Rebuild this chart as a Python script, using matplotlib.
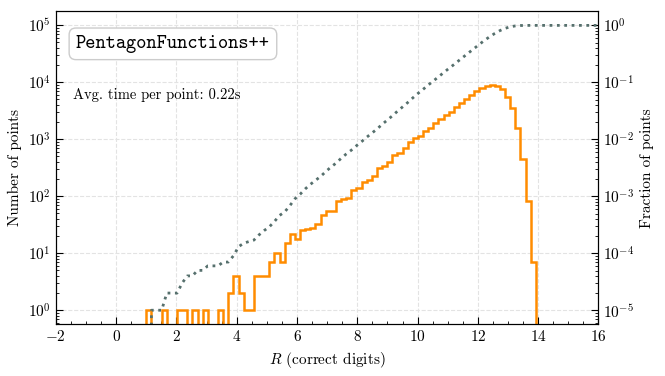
import numpy as np
import matplotlib
matplotlib.use("Agg")
import matplotlib.pyplot as plt
from matplotlib.ticker import MultipleLocator

plt.rcParams['font.family'] = 'serif'
plt.rcParams['font.serif'] = ['cmr10']
plt.rcParams['mathtext.fontset'] = 'cm'
plt.rcParams['axes.formatter.use_mathtext'] = True
plt.rcParams['axes.unicode_minus'] = True

# histogram of correct digits (bin start / width, counts per bin)
bin_start = 1.0
bin_width = 0.17
counts = [
    1, 0, 0, 1, 0, 0, 1, 1, 0, 1,
    0, 1, 0, 0, 1, 0, 2, 4, 2, 1,
    1, 4, 4, 4, 7, 10, 7, 15, 22, 18,
    26, 27, 28, 33, 47, 54, 56, 81, 89, 92,
    126, 138, 177, 194, 225, 315, 341, 405, 531, 582,
    713, 908, 1040, 1141, 1413, 1595, 1905, 2265, 2660, 2966,
    3700, 4300, 5000, 5900, 7000, 8000, 8500, 8900, 8700, 7600,
    5600, 3500, 1550, 450, 81, 7,
]
x_range = (-2, 16)
title_text = 'PentagonFunctions++'
time_text = 'Avg. time per point: 0.22s'

counts = np.array(counts, dtype=float)
edges = bin_start + bin_width * np.arange(len(counts) + 1)
centers = 0.5 * (edges[:-1] + edges[1:])
total = counts.sum()

# cumulative fraction at bin edges, held flat up to the right limit
cum_x = np.append(edges, x_range[1])
cum_y = np.concatenate([[0.0], np.cumsum(counts), [total]]) / total

fig = plt.figure(figsize=(6.65, 3.76), dpi=100)
ax = fig.add_axes([0.084, 0.137, 0.816, 0.834])

ax.hist(centers, bins=edges, weights=counts, histtype='step',
        color='#ff8c00', linewidth=1.8)
ax.set_yscale('log', nonpositive='clip')
ylim = (10**-0.25, 10**5.25)
ax.set_ylim(*ylim)
ax.set_xlim(*x_range)
ax.xaxis.set_major_locator(MultipleLocator(2))
ax.xaxis.set_minor_locator(MultipleLocator(0.5))
ax.grid(True, which='major', linestyle='--', color='#e3e3e3', linewidth=0.8)
ax.set_axisbelow(True)
ax.tick_params(which='both', direction='in', labelsize=11, right=False, top=False)
ax.tick_params(which='major', length=5)
ax.tick_params(which='minor', length=2.5)
ax.set_xlabel('$R$ (correct digits)', fontsize=11)
ax.set_ylabel('Number of points', fontsize=11)

ax2 = ax.twinx()
ax2.plot(cum_x, cum_y, linestyle=':', color='#56706d', linewidth=2)
ax2.set_yscale('log', nonpositive='clip')
ax2.set_ylim(ylim[0] / total, ylim[1] / total)
ax2.tick_params(which='both', direction='in', labelsize=11)
ax2.tick_params(which='major', length=5)
ax2.tick_params(which='minor', length=2.5)
ax2.set_ylabel('Fraction of points', fontsize=11)

ax.text(0.037, 0.895, title_text, transform=ax.transAxes, fontsize=14,
        family='cmtt10', va='center', ha='left',
        bbox=dict(boxstyle='round,pad=0.35', fc='white', ec='#cccccc', lw=1))
ax.text(0.031, 0.732, time_text, transform=ax.transAxes, fontsize=10.5,
        va='center', ha='left')

fig.savefig('out.png', dpi=100)
